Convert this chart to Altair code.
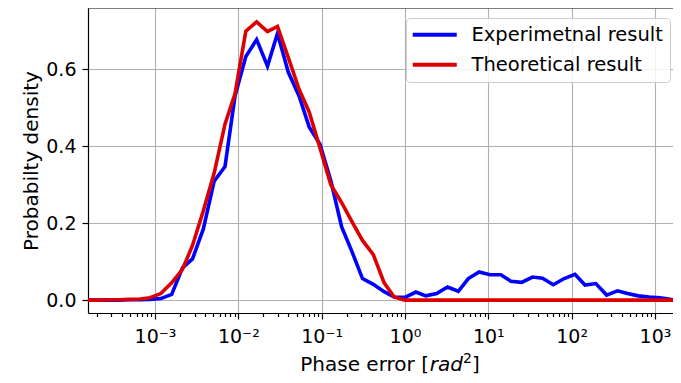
import altair as alt
import pandas as pd

log_x = [-3.82, -3.69, -3.56, -3.44, -3.31, -3.18, -3.06, -2.93, -2.80, -2.67,
         -2.55, -2.42, -2.29, -2.16, -2.04, -1.91, -1.78, -1.65, -1.53, -1.40,
         -1.27, -1.15, -1.02, -0.89, -0.76, -0.64, -0.51, -0.38, -0.25, -0.13,
         0.00, 0.13, 0.25, 0.38, 0.51, 0.64, 0.76, 0.89, 1.02, 1.15,
         1.27, 1.40, 1.53, 1.65, 1.78, 1.91, 2.04, 2.16, 2.29, 2.42,
         2.55, 2.67, 2.80, 2.93, 3.06, 3.18, 3.31]

experimental = [0.0, 0.0, 0.0, 0.0, 0.001, 0.001, 0.002, 0.004, 0.015, 0.084,
                0.107, 0.185, 0.309, 0.347, 0.530, 0.633, 0.677, 0.608, 0.693, 0.592,
                0.530, 0.450, 0.405, 0.310, 0.190, 0.128, 0.056, 0.041, 0.022, 0.008,
                0.007, 0.021, 0.011, 0.017, 0.034, 0.023, 0.056, 0.073, 0.066, 0.066,
                0.049, 0.046, 0.060, 0.057, 0.040, 0.056, 0.067, 0.039, 0.043, 0.013,
                0.024, 0.017, 0.011, 0.008, 0.006, 0.002, 0.0]

theoretical = [0.0, 0.0, 0.001, 0.001, 0.002, 0.003, 0.006, 0.017, 0.045, 0.080,
               0.142, 0.232, 0.330, 0.457, 0.536, 0.699, 0.723, 0.698, 0.711, 0.630,
               0.547, 0.489, 0.395, 0.300, 0.253, 0.205, 0.155, 0.118, 0.045, 0.008,
               0.0, 0.0, 0.0, 0.0, 0.0, 0.0, 0.0, 0.0, 0.0, 0.0,
               0.0, 0.0, 0.0, 0.0, 0.0, 0.0, 0.0, 0.0, 0.0, 0.0,
               0.0, 0.0, 0.0, 0.0, 0.0, 0.0, 0.0]

series_names = ["Experimetnal result", "Theoretical result"]
series_colors = ["#0000ff", "#dc0000"]

decades = [-4, -3, -2, -1, 0, 1, 2, 3]
y_ticks = [0.0, 0.2, 0.4, 0.6]

W, H = 585, 305
x_domain = [10 ** -3.804, 10 ** (-3.804 + W / 83.33)]
y_domain = [-0.0335, 0.759]

rows = []
for lx, e, t in zip(log_x, experimental, theoretical):
    rows.append({"x": 10 ** lx, "y": e, "series": series_names[0]})
    rows.append({"x": 10 ** lx, "y": t, "series": series_names[1]})
df = pd.DataFrame(rows)

x_ticks = [m * 10 ** d for d in decades for m in range(1, 10)
           if x_domain[0] <= m * 10 ** d <= x_domain[1]]

is_dec = "abs(log(datum.value)/LN10 - round(log(datum.value)/LN10)) < 0.001"
sup = ("(round(log(datum.value)/LN10) == -3 ? '10⁻³' : "
       "round(log(datum.value)/LN10) == -2 ? '10⁻²' : "
       "round(log(datum.value)/LN10) == -1 ? '10⁻¹' : "
       "round(log(datum.value)/LN10) == 0 ? '10⁰' : "
       "round(log(datum.value)/LN10) == 1 ? '10¹' : "
       "round(log(datum.value)/LN10) == 2 ? '10²' : "
       "round(log(datum.value)/LN10) == 3 ? '10³' : '')")
label_expr = f"({is_dec}) ? {sup} : ''"

FONT = "DejaVu Sans"

lines = alt.Chart(df).mark_line(strokeWidth=3.6, clip=True).encode(
    x=alt.X("x:Q",
            scale=alt.Scale(type="log", domain=x_domain, nice=False),
            axis=alt.Axis(values=x_ticks, labelExpr=label_expr, title=None,
                          tickSize={"condition": {"test": is_dec, "value": 6}, "value": 3.5},
                          gridOpacity={"condition": {"test": is_dec, "value": 1}, "value": 0},
                          labelPadding=8, labelFlush=False, labelOverlap=False)),
    y=alt.Y("y:Q",
            scale=alt.Scale(domain=y_domain, nice=False, zero=False),
            axis=alt.Axis(values=y_ticks, format=".1f", title="Probabilty density",
                          tickSize=6, labelPadding=6, titlePadding=4)),
    color=alt.Color("series:N",
                    scale=alt.Scale(domain=series_names, range=series_colors),
                    legend=alt.Legend(orient="none", legendX=318, legendY=10, title=None,
                                      symbolType="M-2,0H6.8", symbolSize=100,
                                      symbolStrokeWidth=4, labelOffset=39,
                                      labelFontSize=19.5, labelFont=FONT, labelLimit=400,
                                      padding=7, rowPadding=9,
                                      strokeColor="#cccccc", fillColor="rgba(255,255,255,0.85)",
                                      cornerRadius=4)),
)

one = pd.DataFrame({"k": [0]})
top_spine = alt.Chart(one).mark_rule(color="black", strokeWidth=1.2).encode(
    x=alt.value(0), x2=alt.value(W), y=alt.value(0))

tx0 = 212.3
ty = H + 58
title_parts = [
    alt.Chart(one).mark_text(align="left", baseline="alphabetic", font=FONT, fontSize=20,
                             color="black").encode(x=alt.value(tx0), y=alt.value(ty),
                                                   text=alt.value("Phase error [")),
    alt.Chart(one).mark_text(align="left", baseline="alphabetic", font=FONT, fontSize=20,
                             fontStyle="italic", color="black").encode(
        x=alt.value(tx0 + 129.4), y=alt.value(ty), text=alt.value("rad")),
    alt.Chart(one).mark_text(align="left", baseline="alphabetic", font=FONT, fontSize=14,
                             color="black").encode(
        x=alt.value(tx0 + 162.8), y=alt.value(ty - 8), text=alt.value("2")),
    alt.Chart(one).mark_text(align="left", baseline="alphabetic", font=FONT, fontSize=20,
                             color="black").encode(
        x=alt.value(tx0 + 171.8), y=alt.value(ty), text=alt.value("]")),
]

chart = alt.layer(lines, top_spine, *title_parts).properties(
    width=W, height=H,
    padding={"left": 80, "top": 0, "right": 0, "bottom": 62},
    autosize=alt.AutoSizeParams(type="none"),
).configure_view(stroke=None).configure_axis(
    domainColor="black", domainWidth=1.2, tickColor="black", tickWidth=1.2,
    gridColor="#b0b0b0", gridWidth=1.1,
    labelFont=FONT, labelFontSize=19, labelColor="black",
    titleFont=FONT, titleFontSize=20, titleColor="black", titleFontWeight="normal",
)

chart.save("out.html", embed_options={"renderer": "svg", "actions": False})
